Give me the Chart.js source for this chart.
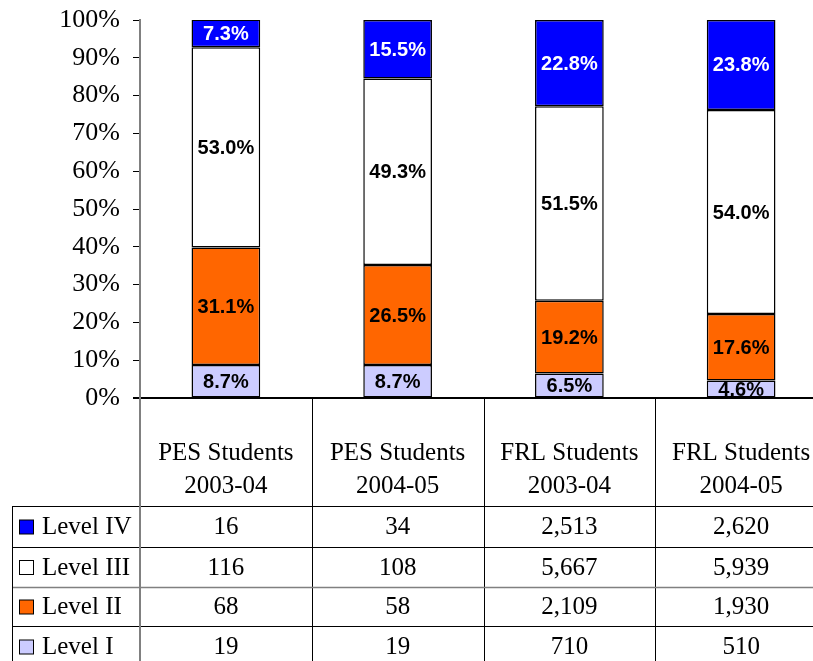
<!DOCTYPE html>
<html>
<head>
<meta charset="utf-8">
<script src="https://cdn.jsdelivr.net/npm/chart.js@4/dist/chart.umd.min.js"></script>
<style>
html,body{margin:0;padding:0;overflow:hidden;background:#fff;}
canvas{display:block;}
</style>
</head>
<body>
<canvas id="c" width="828" height="661" style="width:828px;height:661px"></canvas>
<script>
// Categories (two-line labels)
const categories = [["PES Students","2003-04"],["PES Students","2004-05"],["FRL Students","2003-04"],["FRL Students","2004-05"]];
// Percent shares (bar heights, as labelled in the picture)
const pctLevelIV  = [7.3, 15.5, 22.8, 23.8];
const pctLevelIII = [53.0, 49.3, 51.5, 54.0];
const pctLevelII  = [31.1, 26.5, 19.2, 17.6];
const pctLevelI   = [8.7, 8.7, 6.5, 4.6];
// Counts shown in the data table
const cntLevelIV  = ["16","34","2,513","2,620"];
const cntLevelIII = ["116","108","5,667","5,939"];
const cntLevelII  = ["68","58","2,109","1,930"];
const cntLevelI   = ["19","19","710","510"];
const yTicks = [0,10,20,30,40,50,60,70,80,90,100];

const colIV = "#0000FF", colIII = "#FFFFFF", colII = "#FF6600", colI = "#CCCCFF";

const tableRows = [
  {label:"Level IV", color:colIV, values:cntLevelIV},
  {label:"Level III", color:colIII, values:cntLevelIII},
  {label:"Level II", color:colII, values:cntLevelII},
  {label:"Level I", color:colI, values:cntLevelI}
];

const serif = '"Liberation Serif","Times New Roman",serif';
const sans = '"Liberation Sans",Arial,sans-serif';

const labelPlugin = {
  id:'barLabels',
  afterDatasetsDraw(chart){
    const ctx = chart.ctx;
    ctx.save();
    ctx.font = 'bold 20px ' + sans;
    ctx.textAlign = 'center';
    ctx.textBaseline = 'middle';
    chart.data.datasets.forEach((ds, di) => {
      const meta = chart.getDatasetMeta(di);
      meta.data.forEach((el, i) => {
        const v = ds.data[i];
        ctx.fillStyle = ds.labelColor;
        ctx.fillText(v.toFixed(1) + '%', el.x, (el.y + el.base) / 2 + 1);
      });
    });
    ctx.restore();
  }
};

const tablePlugin = {
  id:'dataTable',
  afterDraw(chart){
    const ctx = chart.ctx;
    const xs = chart.scales.x;
    const ca = chart.chartArea;
    const W = chart.width, H = chart.height;
    const zeroY = chart.scales.y.getPixelForValue(0);
    const n = categories.length;
    const bounds = [];
    for (let i = 0; i < n - 1; i++) {
      bounds.push((xs.getPixelForValue(i) + xs.getPixelForValue(i + 1)) / 2);
    }
    const rowTops = [506, 547, 587, 626, 667];
    const leftX = 12;
    ctx.save();
    // zero line
    ctx.strokeStyle = '#000';
    ctx.lineWidth = 2;
    ctx.beginPath(); ctx.moveTo(ca.left - 7, zeroY); ctx.lineTo(W, zeroY); ctx.stroke();
    // category dividers
    ctx.lineWidth = 1;
    bounds.forEach(b => {
      const bx = Math.round(b) + 0.5;
      ctx.beginPath(); ctx.moveTo(bx, zeroY); ctx.lineTo(bx, H); ctx.stroke();
    });
    // horizontal row lines
    rowTops.slice(0, 4).forEach((y, k) => {
      ctx.strokeStyle = k === 2 ? '#808080' : '#000';
      ctx.lineWidth = k === 2 ? 1.5 : 1;
      ctx.beginPath(); ctx.moveTo(leftX, y + 0.5); ctx.lineTo(W, y + 0.5); ctx.stroke();
    });
    // left border
    ctx.strokeStyle = '#000'; ctx.lineWidth = 1;
    ctx.beginPath(); ctx.moveTo(leftX + 0.5, rowTops[0]); ctx.lineTo(leftX + 0.5, H); ctx.stroke();
    // axis extension
    ctx.strokeStyle = '#808080'; ctx.lineWidth = 2;
    ctx.beginPath(); ctx.moveTo(ca.left, ca.top); ctx.lineTo(ca.left, H); ctx.stroke();
    // header text
    ctx.fillStyle = '#000';
    ctx.font = '25px ' + serif;
    ctx.textAlign = 'center';
    ctx.textBaseline = 'middle';
    categories.forEach((c, i) => {
      const cx = xs.getPixelForValue(i);
      ctx.fillText(c[0], cx, 453);
      ctx.fillText(c[1], cx, 486);
    });
    // rows
    tableRows.forEach((r, k) => {
      const cy = (rowTops[k] + rowTops[k + 1]) / 2 + 1;
      r.values.forEach((v, i) => {
        ctx.textAlign = 'center';
        ctx.fillText(v, xs.getPixelForValue(i), cy);
      });
      // legend swatch
      ctx.fillStyle = r.color;
      ctx.fillRect(19.5, cy - 7.5, 14, 14);
      ctx.strokeStyle = '#000'; ctx.lineWidth = 1;
      ctx.strokeRect(19.5, cy - 7.5, 14, 14);
      ctx.fillStyle = '#000';
      ctx.textAlign = 'left';
      ctx.fillText(r.label, 42, cy);
    });
    ctx.restore();
  }
};

new Chart(document.getElementById('c'), {
  type:'bar',
  data:{
    labels: categories.map(c => c.join(' ')),
    datasets:[
      {label:'Level I', data:pctLevelI, backgroundColor:colI, labelColor:'#000'},
      {label:'Level II', data:pctLevelII, backgroundColor:colII, labelColor:'#000'},
      {label:'Level III', data:pctLevelIII, backgroundColor:colIII, labelColor:'#000'},
      {label:'Level IV', data:pctLevelIV, backgroundColor:colIV, labelColor:'#FFF'}
    ].map(d => Object.assign(d, {borderColor:'#000', borderWidth:1.5, borderSkipped:false, barPercentage:0.4, categoryPercentage:1}))
  },
  options:{
    responsive:false,
    devicePixelRatio:1,
    animation:false,
    layout:{padding:{left:0, right:1, top:20, bottom:263}},
    plugins:{legend:{display:false}, tooltip:{enabled:false}},
    scales:{
      x:{stacked:true, display:false},
      y:{
        stacked:true, min:0, max:100,
        afterFit(s){ s.width = 140; s.paddingTop = 0; s.paddingBottom = 0; },
        afterBuildTicks(s){ s.ticks = yTicks.map(v => ({value:v})); },
        ticks:{
          padding:13,
          color:'#000',
          font:{family:serif, size:26},
          callback:v => v + '%'
        },
        grid:{drawOnChartArea:false, drawTicks:true, tickLength:7, color:'#000'},
        border:{color:'#808080', width:2}
      }
    }
  },
  plugins:[labelPlugin, tablePlugin]
});
</script>
</body>
</html>
